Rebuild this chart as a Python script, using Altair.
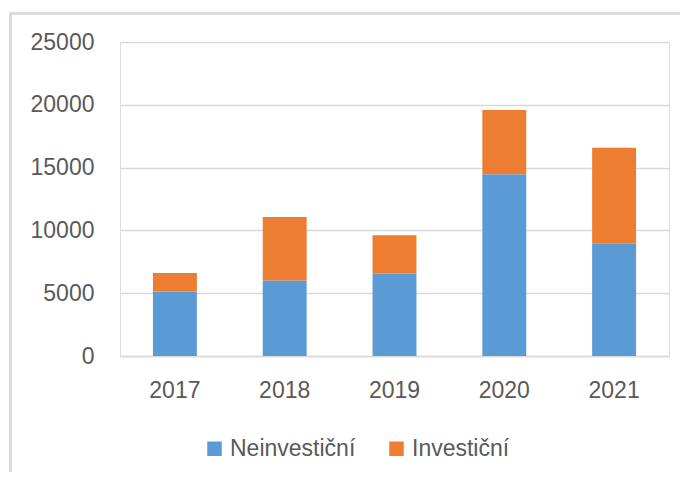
import altair as alt
import pandas as pd

years = ["2017", "2018", "2019", "2020", "2021"]
neinvesticni = [5140, 6010, 6570, 14470, 8930]
investicni = [1460, 5050, 3050, 5120, 7660]
series = ["Neinvestiční", "Investiční"]
colors = ["#5B9BD5", "#ED7D31"]
y_ticks = [0, 5000, 10000, 15000, 20000, 25000]

rows = []
for i, y in enumerate(years):
    rows.append({"rok": y, "typ": series[0], "hodnota": neinvesticni[i], "ord": 0})
    rows.append({"rok": y, "typ": series[1], "hodnota": investicni[i], "ord": 1})
df = pd.DataFrame(rows)

FONT = "Liberation Sans"
TXT = "#595959"
GRID = "#D9D9D9"

bars = alt.Chart(df).mark_bar().encode(
    x=alt.X("rok:N", sort=years, title=None,
            scale=alt.Scale(paddingInner=0.6, paddingOuter=0.3),
            axis=alt.Axis(labelAngle=0, ticks=False, domainColor=GRID, domainWidth=1.5,
                          labelFont=FONT, labelFontSize=23, labelColor=TXT, labelPadding=23)),
    y=alt.Y("hodnota:Q", stack="zero", title=None,
            scale=alt.Scale(domain=[0, 25000], nice=False),
            axis=alt.Axis(values=y_ticks, format="d", domain=False, ticks=False,
                          gridColor=GRID, gridWidth=1.5,
                          labelFont=FONT, labelFontSize=23, labelColor=TXT, labelPadding=26)),
    color=alt.Color("typ:N", title=None,
                    scale=alt.Scale(domain=series, range=colors),
                    legend=alt.Legend(orient="none", legendX=83, legendY=395, direction="horizontal",
                                      symbolType="square", symbolSize=210, symbolStrokeWidth=0,
                                      labelFont=FONT, labelFontSize=23, labelColor=TXT,
                                      labelOffset=4, columnPadding=29)),
    order=alt.Order("ord:Q"),
)

frame_v = alt.Chart(df).mark_rule(color=GRID, strokeWidth=1.5).encode(
    x=alt.value(-109.5), y=alt.value(-28.5), y2=alt.value(600))
frame_h = alt.Chart(df).mark_rule(color=GRID, strokeWidth=1.5).encode(
    x=alt.value(-109.5), x2=alt.value(700), y=alt.value(-28.5))

chart = alt.layer(frame_v, frame_h, bars).properties(
    width=549, height=314,
    autosize=alt.AutoSizeParams(type="none"),
    padding={"left": 112, "top": 34, "right": 11, "bottom": 116},
).configure_view(stroke=None).configure(background="white")

chart.save("out.html", embed_options={"renderer": "svg", "actions": False})
